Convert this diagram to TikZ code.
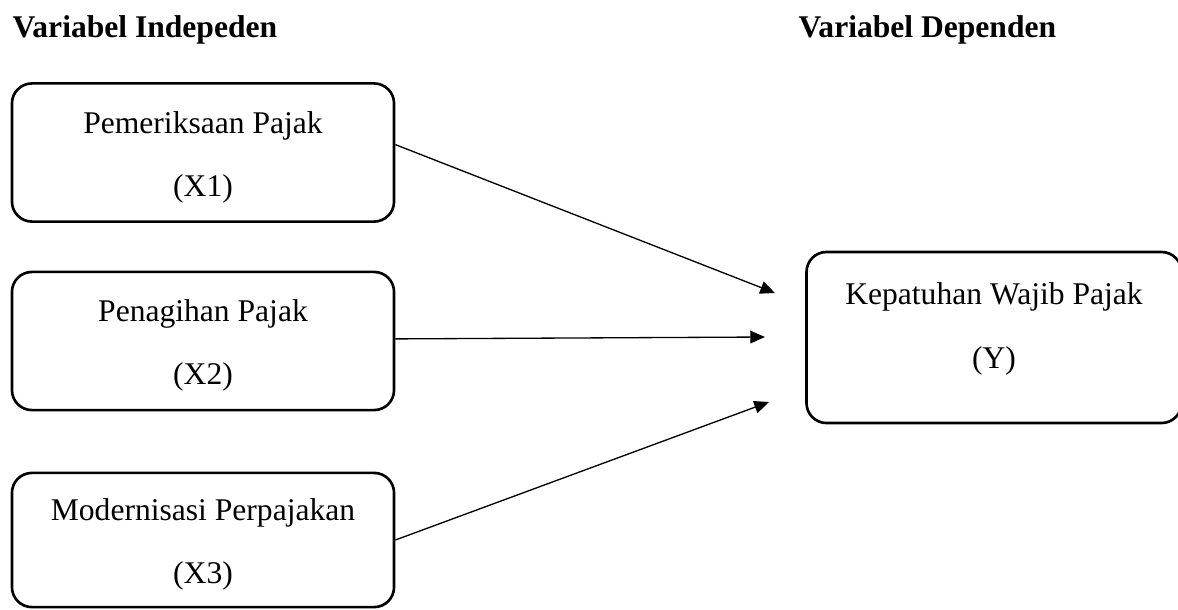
\documentclass[tikz,border=0pt]{standalone}
\usepackage{fontspec}
\setmainfont{Liberation Serif}
\usetikzlibrary{shapes, arrows.meta, positioning}
\tikzstyle{every node}=[font=\fontsize{12}{24}\selectfont]
\tikzstyle{varbox}=[draw,line width=1pt,rectangle,rounded corners=7.6pt,inner sep=0pt,align=center,minimum width=145.2pt,minimum height=52.5pt]
\tikzstyle{heading}=[font=\fontsize{12}{14}\selectfont\bfseries,anchor=base west,inner sep=0pt]
\newcommand{\boxtext}[3][-1.7pt]{\raisebox{#1}[9pt][3pt]{#2}\\\raisebox{#1}[9pt][3pt]{#3}}

\begin{document}
\begin{tikzpicture}[x=0.38pt, y=-0.38pt, >={Triangle[length=5.6pt,width=4.8pt]}]
    \useasboundingbox (0,0) rectangle (1178,609);
    \node[heading] (indep) at (12,37) {Variabel Indepeden};
    \node[heading] (dep) at (798,37) {Variabel Dependen};
    \node[varbox] (x1) at (203,152.5) {\boxtext{Pemeriksaan Pajak}{(X1)}};
    \node[varbox] (x2) at (203,341) {\boxtext{Penagihan Pajak}{(X2)}};
    \node[varbox, minimum height=51pt] (x3) at (203,540) {\boxtext{Modernisasi Perpajakan}{(X3)}};
    \node[varbox, minimum width=142.5pt, minimum height=65pt] (y) at (994,337.5) {\boxtext[3.4pt]{Kepatuhan Wajib Pajak}{(Y)}};
    \coordinate (t1) at (775,293);
    \coordinate (t2) at (765,337);
    \coordinate (t3) at (769,402);
    \draw[->, line width=0.5pt] ([yshift=3pt]x1.east) -- (t1);
    \draw[->, line width=0.5pt] ([yshift=0.8pt]x2.east) -- (t2);
    \draw[->, line width=0.5pt] (x3.east) -- (t3);
\end{tikzpicture}
\end{document}
